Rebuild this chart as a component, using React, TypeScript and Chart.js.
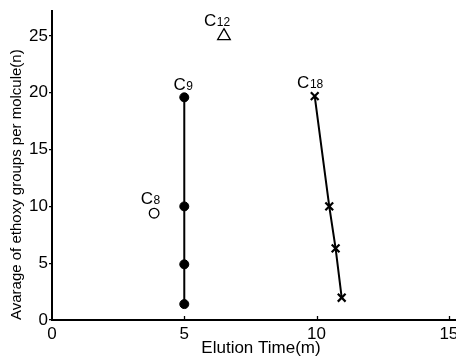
import React, { useEffect, useRef } from "react";
import { Chart, registerables } from "chart.js";

Chart.register(...registerables);

// Data
const c9Time = [5, 5, 5, 5];
const c9N = [19.6, 10, 4.9, 1.4];
const c18Time = [9.93, 10.48, 10.72, 10.95];
const c18N = [19.7, 10.0, 6.3, 1.96];
const c8Time = [3.86];
const c8N = [9.4];
const c12Time = [6.5];
const c12N = [25];

const xTickValues = [0, 5, 10, 15];
const yTickValues = [0, 5, 10, 15, 20, 25];

const labelMain = "C";
const labelSubs = ["9", "18", "8", "12"];

const xTitle = "Elution Time(m)";
const yTitle = "Avarage of ethoxy groups per molcule(n)";

const FONT = "'Liberation Sans', Arial, Helvetica, sans-serif";

const toPoints = (xs: number[], ys: number[]) => xs.map((x, i) => ({ x, y: ys[i] }));

// label offsets relative to the anchor point (first point of each dataset)
const labelOffsets = [
  { dx: -10.7, dy: -7.4 },
  { dx: -17.6, dy: -8.4 },
  { dx: -13.4, dy: -9 },
  { dx: -20, dy: -10 },
];

const labelPlugin = {
  id: "subLabels",
  afterDatasetsDraw(chart: any) {
    const ctx = chart.ctx;
    ctx.save();
    ctx.fillStyle = "#000";
    ctx.textBaseline = "alphabetic";
    ctx.textAlign = "left";
    chart.data.datasets.forEach((_: any, i: number) => {
      const meta = chart.getDatasetMeta(i);
      const el = meta.data[0];
      if (!el) return;
      const off = labelOffsets[i];
      const x = el.x + off.dx;
      const y = el.y + off.dy;
      ctx.font = `17px ${FONT}`;
      ctx.fillText(labelMain, x, y);
      const w = ctx.measureText(labelMain).width;
      ctx.font = `12px ${FONT}`;
      ctx.fillText(labelSubs[i], x + w + 0.5, y);
    });
    ctx.restore();
  },
  afterDraw(chart: any) {
    const ctx = chart.ctx;
    const xs = chart.scales.x;
    const bottom = chart.chartArea.bottom;
    ctx.save();
    ctx.strokeStyle = "#000";
    ctx.lineWidth = 1.3;
    xs.ticks.forEach((t: any) => {
      if (t.value === 0) return;
      const px = Math.round(xs.getPixelForValue(t.value)) + 0.5;
      ctx.beginPath();
      ctx.moveTo(px, bottom);
      ctx.lineTo(px, bottom - 4);
      ctx.stroke();
    });
    ctx.restore();
  },
};

export default function App() {
  const ref = useRef<HTMLCanvasElement | null>(null);

  useEffect(() => {
    if (!ref.current) return;
    const chart = new Chart(ref.current, {
      type: "scatter",
      data: {
        datasets: [
          {
            data: toPoints(c9Time, c9N),
            showLine: true,
            borderColor: "#000",
            borderWidth: 2,
            pointStyle: "circle",
            pointRadius: 4.5,
            pointBackgroundColor: "#000",
            pointBorderColor: "#000",
            pointBorderWidth: 1,
          },
          {
            data: toPoints(c18Time, c18N),
            showLine: true,
            borderColor: "#000",
            borderWidth: 2,
            pointStyle: "crossRot",
            pointRadius: 5.5,
            pointBorderColor: "#000",
            pointBorderWidth: 2.2,
          },
          {
            data: toPoints(c8Time, c8N),
            pointStyle: "circle",
            pointRadius: 4.8,
            pointBackgroundColor: "#fff",
            pointBorderColor: "#000",
            pointBorderWidth: 1.3,
          },
          {
            data: toPoints(c12Time, c12N),
            pointStyle: "triangle",
            pointRadius: 7.3,
            pointBackgroundColor: "#fff",
            pointBorderColor: "#000",
            pointBorderWidth: 1.3,
          },
        ],
      },
      options: {
        animation: false,
        responsive: false,
        maintainAspectRatio: false,
        layout: { autoPadding: false, padding: { top: 11, left: 0, right: 0, bottom: 0 } },
        plugins: {
          legend: { display: false },
          tooltip: { enabled: false },
        },
        scales: {
          x: {
            type: "linear",
            min: 0,
            max: 15.8,
            afterFit: (s: any) => {
              s.height = 39;
              s.paddingLeft = 0;
              s.paddingRight = 0;
            },
            afterBuildTicks: (s: any) => {
              s.ticks = xTickValues.map((v) => ({ value: v }));
            },
            border: { display: true, color: "#000", width: 2 },
            grid: { display: true, drawOnChartArea: false, drawTicks: false },
            ticks: {
              color: "#000",
              padding: 4,
              maxRotation: 0,
              font: { family: FONT, size: 17 },
            },
            title: {
              display: true,
              text: xTitle,
              color: "#000",
              font: { family: FONT, size: 17 },
              padding: { top: 0, bottom: 0 },
            },
          },
          y: {
            type: "linear",
            min: 0,
            max: 27.2,
            afterFit: (s: any) => {
              s.width = 52;
              s.paddingTop = 0;
              s.paddingBottom = 0;
            },
            afterBuildTicks: (s: any) => {
              s.ticks = yTickValues.map((v) => ({ value: v }));
            },
            border: { display: true, color: "#000", width: 2 },
            grid: { display: true, drawOnChartArea: false, drawTicks: true, tickLength: 3, color: "#000", lineWidth: 1.3 },
            ticks: {
              color: "#000",
              padding: 1,
              font: { family: FONT, size: 17 },
            },
            title: {
              display: true,
              text: yTitle,
              align: "start",
              color: "#000",
              font: { family: FONT, size: 15 },
              padding: { top: 8, bottom: 0 },
            },
          },
        },
      },
      plugins: [labelPlugin],
    } as any);
    return () => chart.destroy();
  }, []);

  return (
    <div style={{ position: "fixed", left: 0, top: 0, width: 456, height: 359, overflow: "hidden", background: "#fff" }}>
      <canvas ref={ref} width={470} height={359} style={{ display: "block" }} />
    </div>
  );
}
